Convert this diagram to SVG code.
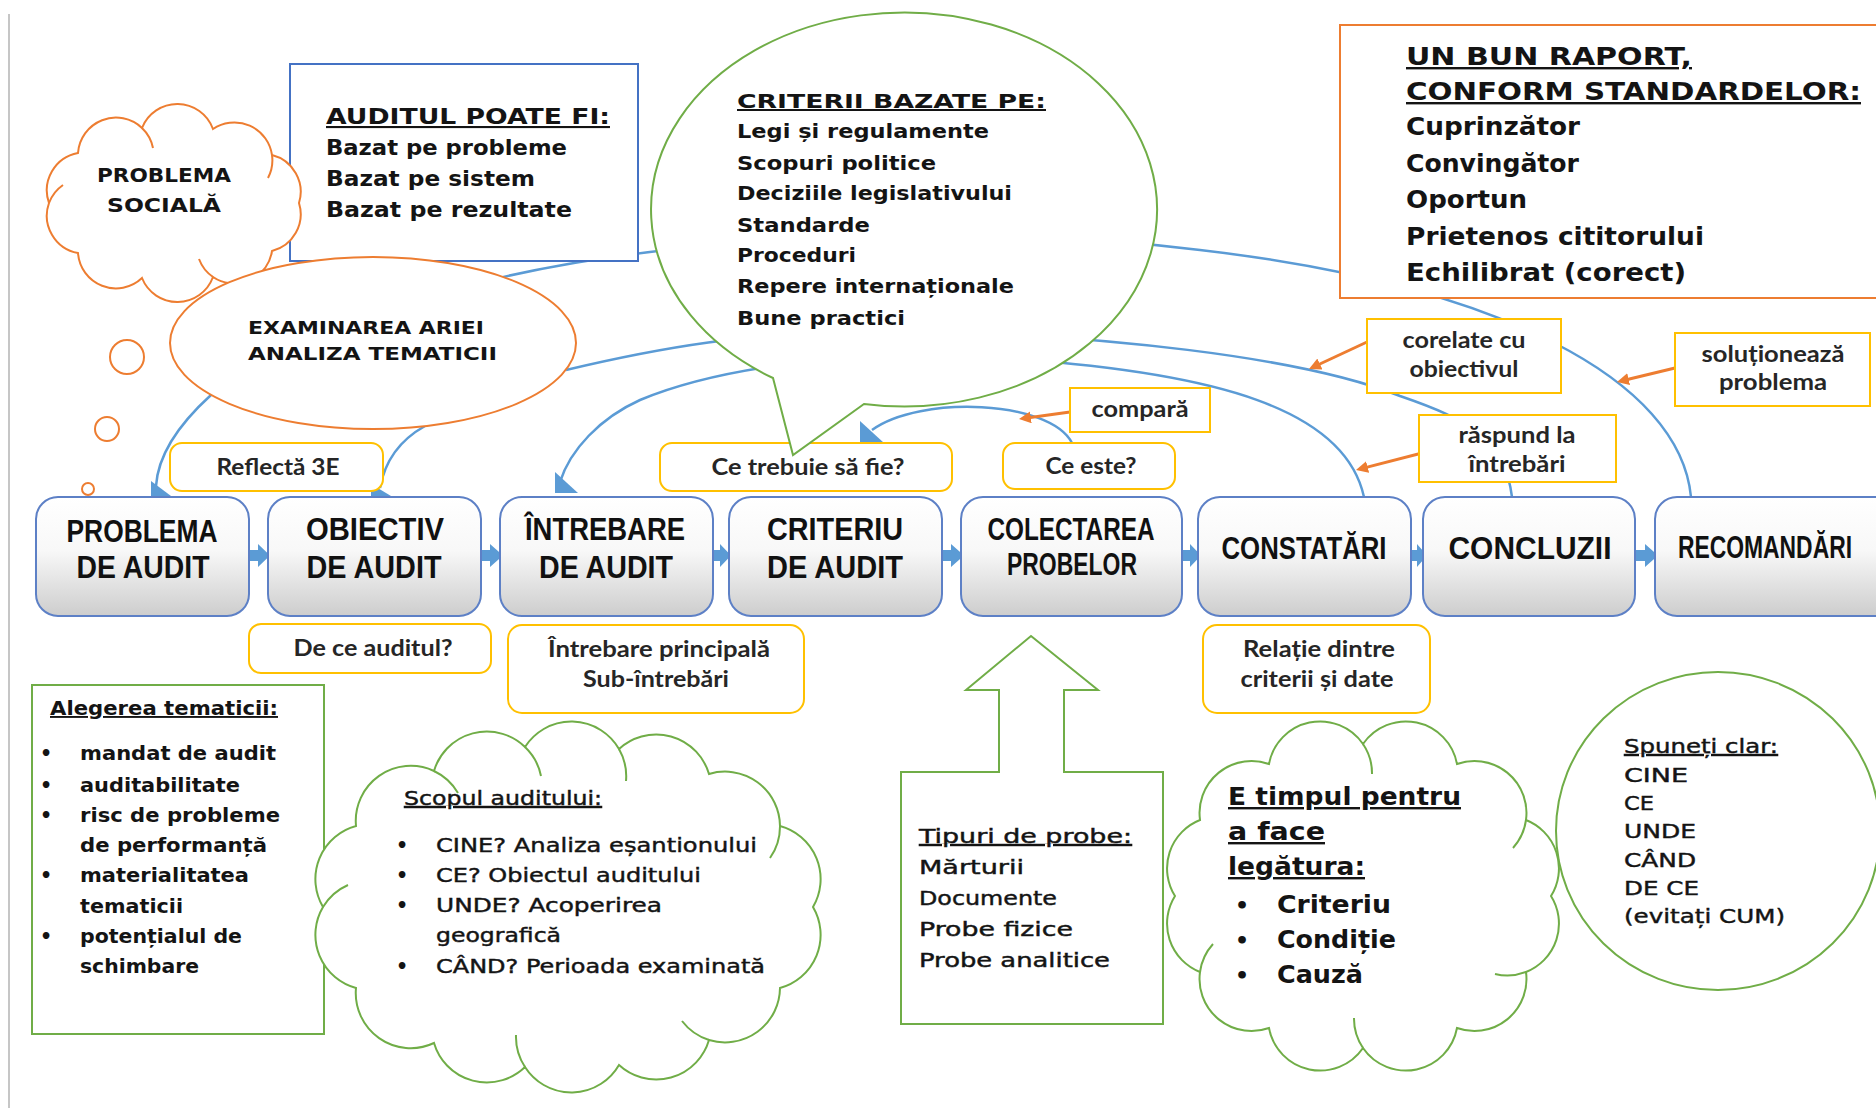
<svg xmlns="http://www.w3.org/2000/svg" width="1876" height="1108" viewBox="0 0 1876 1108">
<defs>
<style>
.cm{font-family:'DejaVu Sans','Noto Sans',sans-serif;font-weight:bold;fill:#141414}
.cr{font-family:'DejaVu Sans','Noto Sans',sans-serif;font-weight:normal;fill:#141414;stroke:#141414;stroke-width:0.45}
.lb{font-family:Lato,'Liberation Sans',sans-serif;font-weight:bold;font-size:22px;text-anchor:middle;fill:#262626}
.tt{font-family:'Liberation Sans Narrow','Liberation Sans',sans-serif;font-weight:bold;font-size:32px;text-anchor:middle;fill:#111}
.u{text-decoration:underline}
.step{fill:url(#stepFill);stroke:#5D80C6;stroke-width:2}
.tag{fill:#fff;stroke:#FFC000;stroke-width:2}
.green{fill:#fff;stroke:#70AD47;stroke-width:2}
.green-line{fill:none;stroke:#70AD47;stroke-width:2}
.orange{fill:#fff;stroke:#ED7D31;stroke-width:2}
.orange-line{fill:none;stroke:#ED7D31;stroke-width:2}
.blue{fill:#fff;stroke:#4472C4;stroke-width:2}
.link{fill:none;stroke:#5B9BD5;stroke-width:2.5}
.head{fill:#5B9BD5}
.ptr{fill:none;stroke:#ED7D31;stroke-width:3;marker-end:url(#ptrHead)}
</style>
<linearGradient id="stepFill" x1="0" y1="0" x2="0" y2="1">
<stop offset="0" stop-color="#ffffff"/>
<stop offset="0.45" stop-color="#f8f8f8"/>
<stop offset="1" stop-color="#cdcdcd"/>
</linearGradient>
<marker id="ptrHead" viewBox="0 0 10 10" refX="2" refY="5" markerWidth="12" markerHeight="12" markerUnits="userSpaceOnUse" orient="auto">
<path d="M0,0 L10,5 L0,10 Z" fill="#ED7D31"/>
</marker>
</defs>

<rect width="1876" height="1108" fill="#fff"/>
<line x1="9" y1="14" x2="9" y2="1108" stroke="#c6c6c6" stroke-width="2"/>

<!-- connectors -->
<g id="connectors">
  <!-- long arcs linking the later steps back to the earlier ones -->
  <path class="link" d="M1691,497 C1680,380 1500,285 1200,250 C1000,225 700,230 490,280"/>
  <path class="link" d="M1512,497 C1505,440 1470,420 1400,396 C1300,356 1100,335 900,330 C750,330 650,350 566,370"/>
  <path class="link" d="M1364,497 C1345,410 1220,372 1000,358 C820,348 700,375 640,400 C600,418 570,450 560,482"/>
  <path class="link" d="M1072,443 C1050,400 920,395 872,430"/>
  <path class="link" d="M211,395 C178,425 158,455 156,486"/>
  <path class="link" d="M425,426 C400,440 385,460 380,488"/>
  <polygon class="head" points="151,481 151,499 175,499"/>
  <polygon class="head" points="371,484 371,499 396,499"/>
  <polygon class="head" points="555,472 555,493 578,493"/>
  <polygon class="head" points="860,421 860,443 884,443"/>
  <!-- label pointers -->
  <path class="ptr" d="M1070,412 L1028.5,417.7"/>
  <path class="ptr" d="M1367,342 L1317.7,365"/>
  <path class="ptr" d="M1675,368 L1626.3,379.7"/>
  <path class="ptr" d="M1426,452 L1365.3,467.6"/>
  <!-- flow arrows between steps -->
  <polygon class="head" points="249,550 258,550 258,544 270,555.5 258,567 258,561 249,561"/>
  <polygon class="head" points="481,550 490,550 490,544 503,555.5 490,567 490,561 481,561"/>
  <polygon class="head" points="713,550 720,550 720,544 731,555.5 720,567 720,561 713,561"/>
  <polygon class="head" points="942,550 951,550 951,544 964,555.5 951,567 951,561 942,561"/>
  <polygon class="head" points="1182,550 1190,550 1190,544 1201,555.5 1190,567 1190,561 1182,561"/>
  <polygon class="head" points="1411,550 1417,550 1417,544 1427,555.5 1417,567 1417,561 1411,561"/>
  <polygon class="head" points="1635,550 1645,550 1645,544 1658,555.5 1645,567 1645,561 1635,561"/>
</g>

<g id="node-auditul-poate-fi">
  <rect class="blue" x="290" y="64" width="348" height="197"/>
  <text class="cm u" x="326" y="124" font-size="21" textLength="284" lengthAdjust="spacingAndGlyphs">AUDITUL POATE FI:</text>
  <text class="cm" x="326" y="155" font-size="21" textLength="241" lengthAdjust="spacingAndGlyphs">Bazat pe probleme</text>
  <text class="cm" x="326" y="186" font-size="21" textLength="209" lengthAdjust="spacingAndGlyphs">Bazat pe sistem</text>
  <text class="cm" x="326" y="217" font-size="21" textLength="246" lengthAdjust="spacingAndGlyphs">Bazat pe rezultate</text>
</g>

<g id="node-problema-sociala">
  <path class="orange" d="M299,203 A38,38 0 0 1 272,251 A38,38 0 0 1 213,277 A38,38 0 0 1 142,278 A38,38 0 0 1 78,253 A38,38 0 0 1 49,203 A38,38 0 0 1 78,153 A38,38 0 0 1 142,128 A38,38 0 0 1 213,129 A38,38 0 0 1 272,155 A38,38 0 0 1 299,203 Z"/>
  <path class="orange-line" d="M142,128 A38,38 0 0 1 153,148 M272,155 A38,38 0 0 1 268,178 M213,277 A38,38 0 0 1 199,259 M49,203 A38,38 0 0 1 63,185"/>
  <circle class="orange" cx="127" cy="357" r="17"/>
  <circle class="orange" cx="107" cy="429" r="12"/>
  <circle class="orange" cx="88" cy="489" r="6"/>
  <text class="cm" x="164" y="182" font-size="19" text-anchor="middle" textLength="134" lengthAdjust="spacingAndGlyphs">PROBLEMA</text>
  <text class="cm" x="164" y="212" font-size="19" text-anchor="middle" textLength="114" lengthAdjust="spacingAndGlyphs">SOCIALĂ</text>
</g>

<g id="node-examinarea">
  <ellipse class="orange" cx="373" cy="343" rx="203" ry="86"/>
  <text class="cm" x="248" y="334" font-size="17" textLength="236" lengthAdjust="spacingAndGlyphs">EXAMINAREA ARIEI</text>
  <text class="cm" x="248" y="360" font-size="17" textLength="249" lengthAdjust="spacingAndGlyphs">ANALIZA TEMATICII</text>
</g>

<g id="tag-reflecta">
  <rect class="tag" x="170" y="443" width="213" height="48" rx="12"/>
  <text class="lb" x="278" y="475" textLength="123" lengthAdjust="spacingAndGlyphs">Reflectă 3E</text>
</g>
<g id="tag-ce-trebuie">
  <rect class="tag" x="660" y="443" width="292" height="48" rx="12"/>
  <text class="lb" x="808" y="475" textLength="193" lengthAdjust="spacingAndGlyphs">Ce trebuie să fie?</text>
</g>
<g id="tag-ce-este">
  <rect class="tag" x="1003" y="443" width="172" height="46" rx="12"/>
  <text class="lb" x="1091" y="474" textLength="91" lengthAdjust="spacingAndGlyphs">Ce este?</text>
</g>
<g id="tag-de-ce">
  <rect class="tag" x="249" y="624" width="242" height="49" rx="12"/>
  <text class="lb" x="373" y="656" textLength="159" lengthAdjust="spacingAndGlyphs">De ce auditul?</text>
</g>
<g id="tag-intrebare-principala">
  <rect class="tag" x="508" y="625" width="296" height="88" rx="14"/>
  <text class="lb" x="659" y="657" textLength="222" lengthAdjust="spacingAndGlyphs">Întrebare principală</text>
  <text class="lb" x="656" y="687" textLength="146" lengthAdjust="spacingAndGlyphs">Sub-întrebări</text>
</g>
<g id="tag-relatie">
  <rect class="tag" x="1203" y="625" width="227" height="88" rx="14"/>
  <text class="lb" x="1319" y="657" textLength="152" lengthAdjust="spacingAndGlyphs">Relație dintre</text>
  <text class="lb" x="1317" y="687" textLength="153" lengthAdjust="spacingAndGlyphs">criterii și date</text>
</g>

<g id="step-problema">
  <rect class="step" x="36" y="497" width="213" height="119" rx="22"/>
  <text class="tt" x="142" y="542" textLength="151" lengthAdjust="spacingAndGlyphs">PROBLEMA</text>
  <text class="tt" x="143" y="578" textLength="133" lengthAdjust="spacingAndGlyphs">DE AUDIT</text>
</g>
<g id="step-obiectiv">
  <rect class="step" x="268" y="497" width="213" height="119" rx="22"/>
  <text class="tt" x="375" y="540" textLength="138" lengthAdjust="spacingAndGlyphs">OBIECTIV</text>
  <text class="tt" x="374" y="578" textLength="135" lengthAdjust="spacingAndGlyphs">DE AUDIT</text>
</g>
<g id="step-intrebare">
  <rect class="step" x="500" y="497" width="213" height="119" rx="22"/>
  <text class="tt" x="605" y="540" textLength="160" lengthAdjust="spacingAndGlyphs">ÎNTREBARE</text>
  <text class="tt" x="606" y="578" textLength="134" lengthAdjust="spacingAndGlyphs">DE AUDIT</text>
</g>
<g id="step-criteriu">
  <rect class="step" x="729" y="497" width="213" height="119" rx="22"/>
  <text class="tt" x="835" y="540" textLength="136" lengthAdjust="spacingAndGlyphs">CRITERIU</text>
  <text class="tt" x="835" y="578" textLength="136" lengthAdjust="spacingAndGlyphs">DE AUDIT</text>
</g>
<g id="step-colectarea">
  <rect class="step" x="961" y="497" width="221" height="119" rx="22"/>
  <text class="tt" x="1071" y="540" textLength="167" lengthAdjust="spacingAndGlyphs">COLECTAREA</text>
  <text class="tt" x="1072" y="575" textLength="130" lengthAdjust="spacingAndGlyphs">PROBELOR</text>
</g>
<g id="step-constatari">
  <rect class="step" x="1198" y="497" width="213" height="119" rx="22"/>
  <text class="tt" x="1304" y="559" textLength="165" lengthAdjust="spacingAndGlyphs">CONSTATĂRI</text>
</g>
<g id="step-concluzii">
  <rect class="step" x="1423" y="497" width="212" height="119" rx="22"/>
  <text class="tt" x="1530" y="559" textLength="163" lengthAdjust="spacingAndGlyphs">CONCLUZII</text>
</g>
<g id="step-recomandari">
  <!-- this step runs off the right edge, so its right side is left open -->
  <path class="step" d="M1876,497 L1677,497 A22,22 0 0 0 1655,519 L1655,594 A22,22 0 0 0 1677,616 L1876,616"/>
  <text class="tt" x="1765" y="558" font-size="28" textLength="174" lengthAdjust="spacingAndGlyphs">RECOMANDĂRI</text>
</g>

<g id="node-criterii-bazate">
  <path class="green" d="M864,404 A253,197 0 1 0 773,378 L793,455 Z"/>
  <text class="cm u" x="737" y="108" font-size="20" textLength="309" lengthAdjust="spacingAndGlyphs">CRITERII BAZATE PE:</text>
  <text class="cm" x="737" y="138" font-size="20" textLength="252" lengthAdjust="spacingAndGlyphs">Legi și regulamente</text>
  <text class="cm" x="737" y="170" font-size="20" textLength="199" lengthAdjust="spacingAndGlyphs">Scopuri politice</text>
  <text class="cm" x="737" y="200" font-size="20" textLength="275" lengthAdjust="spacingAndGlyphs">Deciziile legislativului</text>
  <text class="cm" x="737" y="232" font-size="20" textLength="133" lengthAdjust="spacingAndGlyphs">Standarde</text>
  <text class="cm" x="737" y="262" font-size="20" textLength="119" lengthAdjust="spacingAndGlyphs">Proceduri</text>
  <text class="cm" x="737" y="293" font-size="20" textLength="277" lengthAdjust="spacingAndGlyphs">Repere internaționale</text>
  <text class="cm" x="737" y="325" font-size="20" textLength="168" lengthAdjust="spacingAndGlyphs">Bune practici</text>
</g>

<g id="node-un-bun-raport">
  <!-- box runs off the right edge; right side left open -->
  <path class="orange" d="M1876,25 L1340,25 L1340,298 L1876,298"/>
  <text class="cm u" x="1406" y="65" font-size="24" textLength="286" lengthAdjust="spacingAndGlyphs">UN BUN RAPORT,</text>
  <text class="cm u" x="1406" y="100" font-size="24" textLength="455" lengthAdjust="spacingAndGlyphs">CONFORM STANDARDELOR:</text>
  <text class="cm" x="1406" y="135" font-size="24" textLength="174" lengthAdjust="spacingAndGlyphs">Cuprinzător</text>
  <text class="cm" x="1406" y="172" font-size="24" textLength="173" lengthAdjust="spacingAndGlyphs">Convingător</text>
  <text class="cm" x="1406" y="208" font-size="24" textLength="121" lengthAdjust="spacingAndGlyphs">Oportun</text>
  <text class="cm" x="1406" y="245" font-size="24" textLength="298" lengthAdjust="spacingAndGlyphs">Prietenos cititorului</text>
  <text class="cm" x="1406" y="281" font-size="24" textLength="280" lengthAdjust="spacingAndGlyphs">Echilibrat (corect)</text>
</g>

<g id="tag-compara">
  <rect class="tag" x="1070" y="388" width="140" height="44"/>
  <text class="lb" x="1140" y="417" textLength="97" lengthAdjust="spacingAndGlyphs">compară</text>
</g>
<g id="tag-corelate">
  <rect class="tag" x="1367" y="319" width="194" height="74"/>
  <text class="lb" x="1464" y="348" textLength="123" lengthAdjust="spacingAndGlyphs">corelate cu</text>
  <text class="lb" x="1464" y="377" textLength="109" lengthAdjust="spacingAndGlyphs">obiectivul</text>
</g>
<g id="tag-solutioneaza">
  <rect class="tag" x="1675" y="333" width="195" height="73"/>
  <text class="lb" x="1773" y="362" textLength="143" lengthAdjust="spacingAndGlyphs">soluționează</text>
  <text class="lb" x="1773" y="390" textLength="108" lengthAdjust="spacingAndGlyphs">problema</text>
</g>
<g id="tag-raspund">
  <rect class="tag" x="1419" y="415" width="197" height="67"/>
  <text class="lb" x="1517" y="443" textLength="117" lengthAdjust="spacingAndGlyphs">răspund la</text>
  <text class="lb" x="1517" y="472" textLength="97" lengthAdjust="spacingAndGlyphs">întrebări</text>
</g>

<g id="node-alegerea">
  <rect class="green" x="32" y="685" width="292" height="349"/>
  <text class="cm u" x="50" y="715" font-size="19" textLength="228" lengthAdjust="spacingAndGlyphs">Alegerea tematicii:</text>
  <g class="cm" font-size="19" text-anchor="middle">
    <text x="46" y="760">•</text><text x="46" y="792">•</text><text x="46" y="822">•</text><text x="46" y="882">•</text><text x="46" y="943">•</text>
  </g>
  <text class="cm" x="80" y="760" font-size="19" textLength="196" lengthAdjust="spacingAndGlyphs">mandat de audit</text>
  <text class="cm" x="80" y="792" font-size="19" textLength="160" lengthAdjust="spacingAndGlyphs">auditabilitate</text>
  <text class="cm" x="80" y="822" font-size="19" textLength="200" lengthAdjust="spacingAndGlyphs">risc de probleme</text>
  <text class="cm" x="80" y="852" font-size="19" textLength="187" lengthAdjust="spacingAndGlyphs">de performanță</text>
  <text class="cm" x="80" y="882" font-size="19" textLength="169" lengthAdjust="spacingAndGlyphs">materialitatea</text>
  <text class="cm" x="80" y="913" font-size="19" textLength="103" lengthAdjust="spacingAndGlyphs">tematicii</text>
  <text class="cm" x="80" y="943" font-size="19" textLength="162" lengthAdjust="spacingAndGlyphs">potențialul de</text>
  <text class="cm" x="80" y="973" font-size="19" textLength="119" lengthAdjust="spacingAndGlyphs">schimbare</text>
</g>

<g id="node-scopul">
  <path class="green" d="M813,907 A55,55 0 0 1 780,988 A55,55 0 0 1 709,1040 A55,55 0 0 1 619,1065 A55,55 0 0 1 525,1067 A55,55 0 0 1 434,1043 A55,55 0 0 1 356,988 A55,55 0 0 1 323,907 A55,55 0 0 1 356,826 A55,55 0 0 1 434,771 A55,55 0 0 1 525,747 A55,55 0 0 1 619,749 A55,55 0 0 1 709,774 A55,55 0 0 1 780,826 A55,55 0 0 1 813,907 Z"/>
  <path class="green-line" d="M525,747 A55,55 0 0 1 541,776 M619,749 A55,55 0 0 1 626,781 M780,826 A55,55 0 0 1 770,858 M709,1040 A55,55 0 0 1 682,1021 M525,1067 A55,55 0 0 1 516,1035 M323,907 A55,55 0 0 1 348,885 M434,771 A55,55 0 0 1 458,793"/>
  <text class="cr u" x="404" y="805" font-size="20" textLength="198" lengthAdjust="spacingAndGlyphs">Scopul auditului:</text>
  <g class="cm" font-size="19" text-anchor="middle">
    <text x="402" y="852">•</text><text x="402" y="882">•</text><text x="402" y="912">•</text><text x="402" y="973">•</text>
  </g>
  <text class="cr" x="436" y="852" font-size="20" textLength="321" lengthAdjust="spacingAndGlyphs">CINE? Analiza eșantionului</text>
  <text class="cr" x="436" y="882" font-size="20" textLength="265" lengthAdjust="spacingAndGlyphs">CE? Obiectul auditului</text>
  <text class="cr" x="436" y="912" font-size="20" textLength="226" lengthAdjust="spacingAndGlyphs">UNDE? Acoperirea</text>
  <text class="cr" x="436" y="942" font-size="20" textLength="125" lengthAdjust="spacingAndGlyphs">geografică</text>
  <text class="cr" x="436" y="973" font-size="20" textLength="329" lengthAdjust="spacingAndGlyphs">CÂND? Perioada examinată</text>
</g>

<g id="node-tipuri">
  <polygon class="green" points="1031,636 1098,690 1064,690 1064,772 1163,772 1163,1024 901,1024 901,772 999,772 999,690 966,690"/>
  <text class="cr u" x="919" y="843" font-size="20" textLength="213" lengthAdjust="spacingAndGlyphs">Tipuri de probe:</text>
  <text class="cr" x="919" y="874" font-size="20" textLength="105" lengthAdjust="spacingAndGlyphs">Mărturii</text>
  <text class="cr" x="919" y="905" font-size="20" textLength="138" lengthAdjust="spacingAndGlyphs">Documente</text>
  <text class="cr" x="919" y="936" font-size="20" textLength="154" lengthAdjust="spacingAndGlyphs">Probe fizice</text>
  <text class="cr" x="919" y="967" font-size="20" textLength="191" lengthAdjust="spacingAndGlyphs">Probe analitice</text>
</g>

<g id="node-e-timpul">
  <path class="green" d="M1551,896 A52,52 0 0 1 1526,972 A52,52 0 0 1 1457,1028 A52,52 0 0 1 1363,1048 A52,52 0 0 1 1269,1028 A52,52 0 0 1 1200,972 A52,52 0 0 1 1175,896 A52,52 0 0 1 1200,820 A52,52 0 0 1 1269,764 A52,52 0 0 1 1363,744 A52,52 0 0 1 1457,764 A52,52 0 0 1 1526,820 A52,52 0 0 1 1551,896 Z"/>
  <path class="green-line" d="M1363,744 A52,52 0 0 1 1372,774 M1526,820 A52,52 0 0 1 1513,848 M1526,972 A52,52 0 0 1 1495,974 M1363,1048 A52,52 0 0 1 1354,1018 M1200,972 A52,52 0 0 1 1213,944"/>
  <text class="cm u" x="1228" y="805" font-size="24" textLength="233" lengthAdjust="spacingAndGlyphs">E timpul pentru</text>
  <text class="cm u" x="1228" y="840" font-size="24" textLength="97" lengthAdjust="spacingAndGlyphs">a face</text>
  <text class="cm u" x="1228" y="875" font-size="24" textLength="137" lengthAdjust="spacingAndGlyphs">legătura:</text>
  <g class="cm" font-size="22" text-anchor="middle">
    <text x="1242" y="913">•</text><text x="1242" y="948">•</text><text x="1242" y="983">•</text>
  </g>
  <text class="cm" x="1277" y="913" font-size="24" textLength="114" lengthAdjust="spacingAndGlyphs">Criteriu</text>
  <text class="cm" x="1277" y="948" font-size="24" textLength="119" lengthAdjust="spacingAndGlyphs">Condiție</text>
  <text class="cm" x="1277" y="983" font-size="24" textLength="86" lengthAdjust="spacingAndGlyphs">Cauză</text>
</g>

<g id="node-spuneti">
  <ellipse cx="1718" cy="831" rx="162" ry="159" fill="none" stroke="#70AD47" stroke-width="2"/>
  <text class="cr u" x="1624" y="753" font-size="20" textLength="154" lengthAdjust="spacingAndGlyphs">Spuneți clar:</text>
  <text class="cr" x="1624" y="782" font-size="20" textLength="64" lengthAdjust="spacingAndGlyphs">CINE</text>
  <text class="cr" x="1624" y="810" font-size="20" textLength="30" lengthAdjust="spacingAndGlyphs">CE</text>
  <text class="cr" x="1624" y="838" font-size="20" textLength="72" lengthAdjust="spacingAndGlyphs">UNDE</text>
  <text class="cr" x="1624" y="867" font-size="20" textLength="72" lengthAdjust="spacingAndGlyphs">CÂND</text>
  <text class="cr" x="1624" y="895" font-size="20" textLength="75" lengthAdjust="spacingAndGlyphs">DE CE</text>
  <text class="cr" x="1624" y="923" font-size="20" textLength="161" lengthAdjust="spacingAndGlyphs">(evitați CUM)</text>
</g>
</svg>
